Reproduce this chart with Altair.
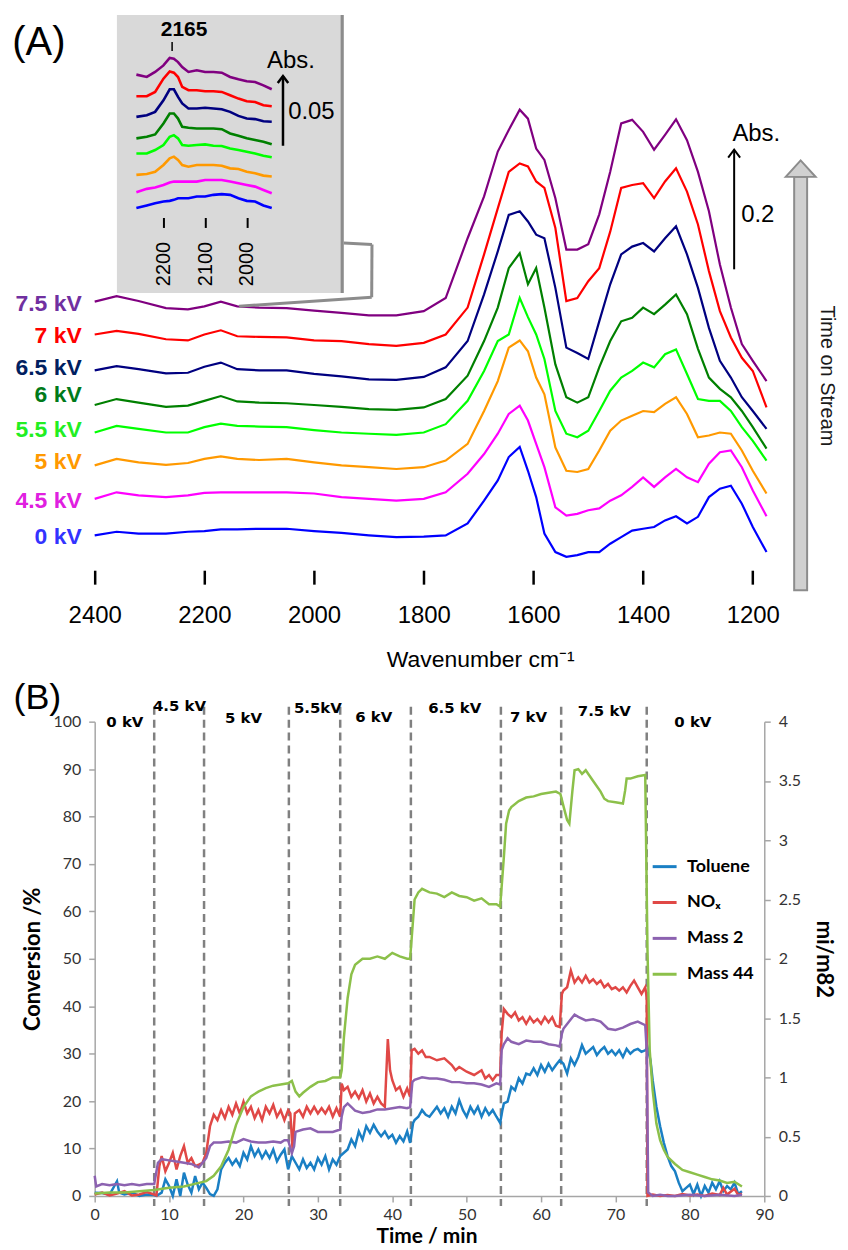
import altair as alt
import pandas as pd

# ======================= (A) DRIFTS spectra =======================
WAVENUMBER = [2400, 2360, 2320, 2270, 2230, 2200, 2170, 2140, 2100, 2050, 2000, 1950, 1900, 1850,
              1800, 1760, 1720, 1690, 1665, 1645, 1625, 1610, 1595, 1580, 1560, 1540, 1520, 1500,
              1480, 1460, 1440, 1420, 1400, 1380, 1360, 1340, 1320, 1300, 1280, 1260, 1240, 1220,
              1200, 1175]

ABS_7_5KV = [0.446, 0.455, 0.447, 0.435, 0.433, 0.438, 0.446, 0.438, 0.436, 0.435, 0.431, 0.427, 0.423, 0.423,
             0.430, 0.452, 0.552, 0.622, 0.697, 0.733, 0.767, 0.752, 0.702, 0.683, 0.619, 0.533, 0.533, 0.542,
             0.592, 0.663, 0.744, 0.750, 0.730, 0.700, 0.725, 0.751, 0.716, 0.663, 0.597, 0.508, 0.436, 0.375,
             0.347, 0.313]
ABS_7KV = [0.391, 0.397, 0.392, 0.383, 0.381, 0.391, 0.398, 0.388, 0.387, 0.386, 0.381, 0.380, 0.375, 0.372,
           0.377, 0.391, 0.436, 0.525, 0.602, 0.663, 0.677, 0.672, 0.647, 0.636, 0.569, 0.447, 0.452, 0.480,
           0.502, 0.563, 0.636, 0.641, 0.644, 0.619, 0.647, 0.669, 0.630, 0.575, 0.497, 0.430, 0.386, 0.352,
           0.330, 0.269]
ABS_6_5KV = [0.331, 0.338, 0.333, 0.326, 0.327, 0.337, 0.344, 0.333, 0.331, 0.331, 0.325, 0.321, 0.316, 0.315,
             0.320, 0.336, 0.380, 0.458, 0.530, 0.591, 0.597, 0.580, 0.558, 0.552, 0.469, 0.369, 0.360, 0.350,
             0.413, 0.475, 0.525, 0.538, 0.544, 0.530, 0.552, 0.572, 0.525, 0.469, 0.402, 0.347, 0.319, 0.286,
             0.263, 0.233]
ABS_6KV = [0.273, 0.283, 0.277, 0.270, 0.272, 0.280, 0.288, 0.279, 0.277, 0.276, 0.273, 0.270, 0.266, 0.265,
           0.269, 0.283, 0.322, 0.380, 0.436, 0.502, 0.527, 0.475, 0.502, 0.436, 0.341, 0.286, 0.277, 0.286,
           0.336, 0.380, 0.413, 0.419, 0.436, 0.425, 0.441, 0.458, 0.425, 0.367, 0.319, 0.300, 0.286, 0.263,
           0.236, 0.200]
ABS_5_5KV = [0.227, 0.238, 0.233, 0.227, 0.227, 0.236, 0.242, 0.238, 0.237, 0.236, 0.231, 0.227, 0.225, 0.223,
             0.227, 0.241, 0.280, 0.330, 0.380, 0.391, 0.452, 0.420, 0.391, 0.350, 0.263, 0.225, 0.219, 0.230,
             0.263, 0.297, 0.319, 0.330, 0.344, 0.336, 0.358, 0.366, 0.325, 0.283, 0.280, 0.280, 0.263, 0.236,
             0.213, 0.180]
ABS_5KV = [0.172, 0.183, 0.177, 0.173, 0.176, 0.183, 0.187, 0.183, 0.181, 0.183, 0.177, 0.172, 0.169, 0.166,
           0.169, 0.180, 0.208, 0.263, 0.313, 0.369, 0.381, 0.363, 0.319, 0.291, 0.202, 0.163, 0.161, 0.166,
           0.197, 0.230, 0.247, 0.255, 0.263, 0.261, 0.275, 0.286, 0.258, 0.219, 0.222, 0.227, 0.225, 0.197,
           0.163, 0.125]
ABS_4_5KV = [0.116, 0.127, 0.122, 0.119, 0.122, 0.126, 0.127, 0.127, 0.127, 0.127, 0.125, 0.119, 0.116, 0.113,
             0.116, 0.127, 0.158, 0.191, 0.225, 0.258, 0.272, 0.247, 0.208, 0.169, 0.102, 0.088, 0.091, 0.097,
             0.100, 0.113, 0.122, 0.136, 0.152, 0.136, 0.152, 0.166, 0.152, 0.144, 0.175, 0.194, 0.197, 0.169,
             0.130, 0.087]
ABS_0KV = [0.055, 0.061, 0.058, 0.058, 0.061, 0.062, 0.065, 0.065, 0.066, 0.066, 0.062, 0.059, 0.055, 0.052,
           0.053, 0.055, 0.075, 0.113, 0.147, 0.186, 0.203, 0.163, 0.119, 0.058, 0.027, 0.019, 0.022, 0.027,
           0.027, 0.041, 0.052, 0.063, 0.066, 0.069, 0.080, 0.087, 0.075, 0.086, 0.119, 0.133, 0.138, 0.108,
           0.069, 0.027]

SPECTRA_SERIES = ["7.5 kV", "7 kV", "6.5 kV", "6 kV", "5.5 kV", "5 kV", "4.5 kV", "0 kV"]
SPECTRA = [ABS_7_5KV, ABS_7KV, ABS_6_5KV, ABS_6KV, ABS_5_5KV, ABS_5KV, ABS_4_5KV, ABS_0KV]
LABEL_LEVEL = [0.442, 0.388, 0.335, 0.290, 0.232, 0.178, 0.112, 0.052]

# inset (CO region)
INSET_WN = [2265, 2240, 2220, 2200, 2185, 2175, 2165, 2155, 2140, 2120, 2100, 2080, 2060, 2040, 2020,
            2000, 1980, 1960, 1940]
INSET_7_5KV = [0.1017, 0.1000, 0.1036, 0.1083, 0.1136, 0.1131, 0.1107, 0.1071, 0.1036, 0.1048, 0.1036,
               0.1036, 0.1031, 0.1000, 0.0983, 0.0969, 0.0964, 0.0940, 0.0912]
INSET_7KV = [0.0862, 0.0862, 0.0893, 0.0988, 0.1040, 0.1031, 0.1000, 0.0929, 0.0905, 0.0905, 0.0898,
             0.0898, 0.0893, 0.0869, 0.0845, 0.0826, 0.0821, 0.0798, 0.0790]
INSET_6_5KV = [0.0714, 0.0726, 0.0750, 0.0833, 0.0912, 0.0912, 0.0857, 0.0810, 0.0774, 0.0774, 0.0779,
               0.0774, 0.0769, 0.0750, 0.0721, 0.0702, 0.0698, 0.0683, 0.0679]
INSET_6KV = [0.0560, 0.0571, 0.0588, 0.0667, 0.0738, 0.0738, 0.0702, 0.0643, 0.0636, 0.0631, 0.0631,
             0.0631, 0.0626, 0.0595, 0.0579, 0.0560, 0.0548, 0.0536, 0.0517]
INSET_5_5KV = [0.0452, 0.0452, 0.0476, 0.0512, 0.0571, 0.0583, 0.0560, 0.0512, 0.0507, 0.0512, 0.0517,
               0.0507, 0.0505, 0.0488, 0.0476, 0.0464, 0.0452, 0.0436, 0.0424]
INSET_5KV = [0.0298, 0.0305, 0.0321, 0.0369, 0.0417, 0.0429, 0.0405, 0.0369, 0.0357, 0.0369, 0.0369,
             0.0369, 0.0364, 0.0345, 0.0340, 0.0321, 0.0310, 0.0293, 0.0286]
INSET_4_5KV = [0.0174, 0.0198, 0.0207, 0.0226, 0.0243, 0.0250, 0.0250, 0.0250, 0.0250, 0.0250, 0.0262,
               0.0262, 0.0262, 0.0250, 0.0238, 0.0226, 0.0214, 0.0190, 0.0167]
INSET_0KV = [0.0060, 0.0079, 0.0095, 0.0107, 0.0112, 0.0119, 0.0131, 0.0131, 0.0131, 0.0143, 0.0143,
             0.0155, 0.0160, 0.0155, 0.0131, 0.0112, 0.0107, 0.0079, 0.0060]
INSET_SPECTRA = [INSET_7_5KV, INSET_7KV, INSET_6_5KV, INSET_6KV, INSET_5_5KV, INSET_5KV, INSET_4_5KV, INSET_0KV]

MAIN_TICKS = [2400, 2200, 2000, 1800, 1600, 1400, 1200]
INSET_TICKS = [2200, 2100, 2000]
BAR_WN, BAR_BASE, BAR_LEN = 1234, 0.50, 0.2
INSET_BAR_WN, INSET_BAR_BASE, INSET_BAR_LEN = 1913, 0.0507, 0.05

# ======================= (B) conversion vs time =======================
TOLUENE_T = [0, 1, 2, 3, 3.3, 4, 5, 6, 7, 8,
             8.3, 9, 9.5, 10, 10.5, 11, 11.5, 12, 12.5, 13,
             13.5, 14, 14.5, 15, 15.5, 16, 16.5, 17, 17.5, 18,
             18.5, 19, 19.5, 20, 20.5, 21, 21.5, 22, 22.5, 23,
             23.5, 24, 24.5, 25, 25.5, 26, 26.5, 27, 27.5, 28,
             28.5, 29, 29.5, 30, 30.5, 31, 31.5, 32, 32.5, 33,
             33.5, 34, 34.5, 35, 35.5, 36, 36.5, 37, 37.5, 38,
             38.5, 39, 39.5, 40, 40.5, 41, 41.5, 42, 42.4, 42.8,
             43, 43.5, 44, 44.5, 45, 46, 46.5, 47, 47.5, 48,
             48.5, 49, 49.5, 50, 50.5, 51, 51.5, 52, 52.5, 53,
             53.5, 54, 54.5, 54.8, 55, 55.5, 56, 56.5, 57, 57.5,
             58, 58.5, 59, 59.5, 60, 60.5, 61, 61.5, 62, 62.5,
             63, 63.5, 64, 64.5, 65, 65.5, 66, 66.5, 67, 67.5,
             68, 68.5, 69, 69.5, 70, 70.5, 71, 71.5, 72, 72.5,
             73, 73.5, 74, 74.3, 74.7, 75, 75.5, 76, 76.5, 77,
             77.5, 78, 78.5, 79, 79.5, 80, 80.5, 81, 81.5, 82,
             82.5, 83, 83.5, 84, 84.5, 85, 85.5, 86, 86.5, 87]
TOLUENE = [0.7, 0.6, 0.3, 3.1, 0.7, 0.3, 0.7, 0, 0.3, 0.2,
           0, 0.7, 3.5, 2.1, 0, 3.5, 0, 4.9, 2.4, 0.7,
           4.2, 1.4, 2.8, 1.7, 0.4, 0, 1.4, 5.6, 7, 8,
           6.6, 7.7, 6.3, 9.1, 7.7, 10.5, 8.4, 9.8, 8, 9.4,
           8, 9.8, 7.3, 8.7, 9.8, 5.6, 8.4, 7, 5.6, 7.7,
           5.9, 7, 5.6, 8, 6.6, 8.4, 5.6, 7.7, 6.6, 8.4,
           9.1, 9.8, 11.9, 10.5, 13.6, 11.9, 14.7, 13.3, 15, 13.6,
           12.6, 13.6, 12.2, 12.9, 11.2, 12.6, 11.5, 13.6, 11.2, 15.4,
           16, 16.7, 18.1, 17.1, 16.7, 18.8, 17.4, 18.5, 16.7, 18.8,
           17.4, 20.2, 18.1, 16.7, 18.8, 17.4, 18.8, 16.7, 18.5, 17.1,
           18.1, 16.7, 15.4, 18.1, 19.5, 19.9, 23, 22.3, 24.8, 23.7,
           25.8, 25.5, 26.9, 25.5, 27.6, 26.2, 27.9, 26.5, 27.6, 28.6,
           27.9, 25.8, 29, 27.6, 29.3, 31.8, 30, 30.7, 31.4, 29.7,
           30.7, 31.4, 30, 30.7, 29.7, 30.7, 29.3, 31, 30, 30.7,
           31, 30.4, 30.7, 31.4, 28.6, 24.4, 18.8, 14.7, 11.2, 8.4,
           6.3, 5.2, 2.8, 1, 1.7, 2.4, 0.4, 2.4, 0, 2.1,
           0.7, 2.8, 1.4, 3.1, 1, 2.1, 1.4, 2.8, 0.4, 1]

NOX_T = [0, 1, 2, 3, 4, 5, 6, 7, 8, 8.3,
         8.7, 9, 9.5, 10, 10.5, 11, 11.5, 12, 12.5, 13,
         13.5, 14, 14.5, 15, 15.5, 16, 16.5, 17, 17.5, 18,
         18.5, 19, 19.5, 20, 20.5, 21, 21.5, 22, 22.5, 23,
         23.5, 24, 24.5, 25, 25.5, 26, 26.3, 26.6, 26.9, 27.5,
         28, 28.5, 29, 29.5, 30, 30.5, 31, 31.5, 32, 32.5,
         33, 33.2, 33.5, 34, 34.5, 35, 35.5, 36, 36.5, 37,
         37.5, 38, 38.5, 39, 39.4, 39.7, 40, 40.5, 41, 41.5,
         42, 42.4, 42.6, 43, 43.5, 44, 44.5, 45, 46, 47,
         48, 48.5, 49, 50, 51, 52, 52.5, 53, 53.5, 54,
         54.5, 54.7, 55, 55.5, 56, 56.5, 57, 57.5, 58, 58.5,
         59, 59.5, 60, 60.5, 61, 61.5, 62, 62.5, 62.8, 63,
         63.5, 64, 64.5, 65, 65.5, 66, 66.5, 67, 67.5, 68,
         68.5, 69, 69.5, 70, 70.5, 71, 71.5, 72, 72.5, 73,
         73.5, 74, 74.2, 74.3, 75, 76, 77, 78, 79, 80,
         81, 82, 83, 84, 84.5, 85, 86, 86.5, 87]
NOX = [0.3, 0.7, 0.1, 0.5, 1, 0.1, 0.3, 0.8, 0.3, 0.1,
       6.3, 8.4, 5.2, 7, 9.1, 5.6, 8.4, 10.5, 7, 8,
       6.3, 6.6, 7, 9.1, 14.7, 17.1, 16, 18.1, 16.4, 18.8,
       17.1, 19.5, 17.4, 19.9, 17.4, 18.8, 16.4, 18.1, 16, 18.8,
       17.4, 19.2, 16.7, 18.1, 16, 18.1, 17.4, 9.8, 17.4, 18.1,
       16.7, 18.8, 17.4, 18.8, 17.4, 18.5, 17.4, 18.8, 16.7, 18.5,
       16.7, 23.7, 22.3, 23, 20.9, 22, 20.6, 22.3, 19.9, 21.6,
       19.5, 20.9, 19.5, 18.8, 33.1, 26.5, 24.4, 22.3, 23, 20.9,
       22.7, 20.9, 30.7, 31, 30, 30.7, 29.3, 29.3, 28.6, 29,
       27.6, 26.5, 27.2, 26.2, 25.5, 26.5, 24.8, 25.5, 24.4, 25.5,
       25.5, 34.2, 39.4, 38.4, 37.7, 38.7, 37, 37.7, 36.3, 37.7,
       36.6, 37.3, 36.3, 37.7, 36.6, 37.7, 35.9, 35.6, 42.6, 43.3,
       44, 47.5, 45, 46.1, 45, 46.4, 45, 45.7, 44.7, 45.4,
       44, 44.7, 43.6, 44, 43.3, 44, 42.9, 44.3, 45.4, 44,
       42.6, 44, 41.9, 0, 0.3, 0, 0.2, 0, 0.4, 0.1,
       0.3, 0, 0.5, 0.2, 1.7, 0.3, 1.5, 0.2, 0.5]

MASS2_T = [0, 0.2, 1, 2, 3, 4, 5, 6, 7, 8,
           8.5, 9, 10, 11, 12, 13, 14, 14.5, 15, 15.5,
           16, 17, 18, 19, 20, 21, 22, 23, 24, 25,
           25.5, 26, 26.5, 26.8, 27, 28, 29, 30, 31, 32,
           33, 33.2, 33.5, 34, 35, 36, 37, 38, 39, 40,
           41, 42, 42.4, 42.7, 43, 44, 45, 46, 47, 48,
           49, 50, 51, 52, 53, 54, 54.5, 54.7, 55, 55.5,
           56, 57, 58, 59, 60, 61, 62, 62.5, 62.8, 63,
           64, 64.5, 65, 66, 67, 68, 69, 70, 71, 72,
           73, 74, 74.2, 74.4, 75, 76, 77, 78, 80, 82,
           84, 86, 87]
MASS2 = [0.17, 0.08, 0.1, 0.09, 0.1, 0.09, 0.1, 0.09, 0.1, 0.1,
         0.28, 0.31, 0.3, 0.29, 0.28, 0.27, 0.24, 0.28, 0.32, 0.42,
         0.45, 0.45, 0.46, 0.45, 0.48, 0.46, 0.45, 0.45, 0.46, 0.45,
         0.47, 0.47, 0.36, 0.42, 0.54, 0.56, 0.57, 0.54, 0.54, 0.54,
         0.56, 0.67, 0.75, 0.78, 0.72, 0.7, 0.71, 0.73, 0.73, 0.74,
         0.75, 0.74, 0.75, 0.96, 0.98, 1.0, 0.99, 0.99, 0.98, 0.96,
         0.96, 0.95, 0.95, 0.94, 0.92, 0.95, 0.94, 1.23, 1.28, 1.33,
         1.3, 1.28, 1.31, 1.3, 1.3, 1.28, 1.27, 1.26, 1.37, 1.41,
         1.49, 1.53, 1.51, 1.48, 1.49, 1.47, 1.41, 1.4, 1.42, 1.45,
         1.47, 1.44, 1.23, 0.03, 0.0, 0.01, 0.0, 0.0, 0.01, 0.0,
         0.01, 0.0, 0.01]

MASS44_T = [0, 2, 4, 6, 8, 10, 12, 14, 15, 16,
            17, 18, 19, 20, 21, 22, 23, 24, 25, 26,
            26.5, 27, 27.5, 28, 29, 30, 31, 32, 33, 33.2,
            33.5, 34, 34.5, 35, 36, 37, 38, 39, 40, 41,
            42, 42.4, 43, 43.5, 44, 45, 46, 47, 48, 49,
            50, 51, 52, 53, 54, 54.5, 55, 55.3, 55.7, 56,
            57, 58, 59, 60, 61, 62, 62.6, 63, 63.5, 63.8,
            64.2, 64.5, 65, 65.5, 66, 67, 68, 68.5, 69, 70,
            71, 71.3, 71.5, 72, 73, 74, 74.3, 74.6, 75, 75.5,
            76, 76.5, 77, 78, 79, 80, 81, 82, 83, 84,
            85, 86, 87]
MASS44 = [0.02, 0.03, 0.03, 0.04, 0.05, 0.07, 0.08, 0.11, 0.125, 0.17,
          0.25, 0.39, 0.6, 0.75, 0.84, 0.88, 0.91, 0.93, 0.94, 0.95,
          0.97, 0.88, 0.84, 0.87, 0.92, 0.96, 0.97, 1.0, 1.0, 1.06,
          1.34, 1.67, 1.87, 1.95, 2.0, 2.0, 2.02, 2.0, 2.05, 2.02,
          2.0, 2.0, 2.5, 2.56, 2.59, 2.56, 2.55, 2.52, 2.56, 2.53,
          2.52, 2.49, 2.51, 2.46, 2.46, 2.44, 2.86, 3.14, 3.25, 3.28,
          3.33, 3.36, 3.37, 3.39, 3.4, 3.41, 3.39, 3.29, 3.17, 3.14,
          3.41, 3.59, 3.6, 3.56, 3.59, 3.5, 3.41, 3.35, 3.33, 3.32,
          3.31, 3.42, 3.52, 3.52, 3.54, 3.55, 2.08, 1.23, 0.89, 0.61,
          0.47, 0.39, 0.33, 0.27, 0.22, 0.2, 0.18, 0.16, 0.14, 0.13,
          0.11, 0.12, 0.08]

SWITCH_TIMES = [8.0, 14.7, 26.1, 33.0, 42.5, 54.6, 62.7, 74.2]
STAGE_LABELS = ["0 kV", "4.5 kV", "5 kV", "5.5kV", "6 kV", "6.5 kV", "7 kV", "7.5 kV", "0 kV"]
STAGE_T = [4.06, 11.4, 20.0, 30.0, 37.5, 48.4, 58.3, 68.5, 80.4]
STAGE_LEVEL = [99.9, 103.3, 100.8, 102.9, 101.0, 102.9, 101.0, 102.2, 99.9]

SERIES_B = ["Toluene", "NOₓ", "Mass 2", "Mass 44"]

# ======================= styles =======================
LINE_COLORS = ["#800080", "#ff0000", "#000080", "#008000", "#00ff00", "#ff9900", "#ff00ff", "#0000ff"]
LABEL_COLORS = ["#7030a0", "#ff0000", "#002060", "#007a1a", "#22ee22", "#ff9900", "#e020e0", "#3333ff"]
COLORS_B = ["#1a7fc4", "#e04846", "#8c62b0", "#8cc04a"]
FONT_A = "Liberation Sans"
FONT_B = "Lato"
FONT_KV = "DejaVu Sans"
GRAY = "#a6a6a6"
LBL = "#333333"
W_A, H_A = 677, 558
W_B, H_B = 672, 476
CHEVRON = "M-0.75,1L0,0L0.75,1"
TRIANGLE = "M-1,0.55L0,-0.55L1,0.55Z"


def one_row():
    return pd.DataFrame({"k": [0]})


def pix_text(text, x, y, size, font, weight="normal", color="black", angle=0, align="center"):
    return alt.Chart(one_row()).mark_text(
        text=text, font=font, fontSize=size, fontWeight=weight, color=color,
        angle=angle, align=align, baseline="middle"
    ).encode(x=alt.value(x), y=alt.value(y))


def pix_rule(x, y, x2, y2, color, width):
    return alt.Chart(one_row()).mark_rule(color=color, strokeWidth=width).encode(
        x=alt.value(x), y=alt.value(y), x2=alt.value(x2), y2=alt.value(y2))


def pix_rect(x, y, x2, y2, fill, stroke=None, sw=0):
    kw = dict(fill=fill)
    if stroke:
        kw.update(stroke=stroke, strokeWidth=sw)
    return alt.Chart(one_row()).mark_rect(**kw).encode(
        x=alt.value(x), y=alt.value(y), x2=alt.value(x2), y2=alt.value(y2))


# ---------------- panel A data frames ----------------
df_spec = pd.DataFrame([
    {"wn": w, "absorbance": v, "series": s}
    for s, vals in zip(SPECTRA_SERIES, SPECTRA) for w, v in zip(WAVENUMBER, vals)
])
df_inset = pd.DataFrame([
    {"wn": w, "absorbance": v, "series": s}
    for s, vals in zip(SPECTRA_SERIES, INSET_SPECTRA) for w, v in zip(INSET_WN, vals)
])
df_lab = pd.DataFrame({"series": SPECTRA_SERIES, "absorbance": LABEL_LEVEL, "lc": LABEL_COLORS})

color_A = alt.Scale(domain=SPECTRA_SERIES, range=LINE_COLORS)
xA = alt.Scale(domain=[1170, 2400], reverse=True, nice=False, zero=False)
yA = alt.Scale(domain=[-0.0033, 0.9267], nice=False, zero=False)
xI = alt.Scale(domain=[745.5, 2365.1], reverse=True, nice=False, zero=False)
yI = alt.Scale(domain=[-0.2536, 0.145], nice=False, zero=False)

axA = alt.Axis(orient="bottom", values=MAIN_TICKS, format="d", domain=False, grid=False,
               tickColor="black", tickWidth=2.5, tickSize=14,
               labelFont=FONT_A, labelFontSize=24, labelColor="black", labelPadding=19,
               labelFlush=False, labelOverlap=False,
               title="Wavenumber cm⁻¹", titleFont=FONT_A, titleFontSize=23, titleFontWeight="normal",
               titleColor="black", titleX=387, titleY=90, titleBaseline="middle")
axI = alt.Axis(orient="bottom", offset=-354, values=INSET_TICKS, format="d", domain=False, grid=False,
               tickColor="black", tickWidth=2, tickSize=10, labelAngle=270,
               labelFont=FONT_A, labelFontSize=20, labelColor="black", labelPadding=14,
               labelFlush=False, labelOverlap=False, title=None, zindex=2)

XA = alt.X("wn:Q", scale=xA, axis=axA)
XI = alt.X("wn:Q", scale=xI, axis=axI)

spectra = alt.Chart(df_spec).mark_line(strokeWidth=2.2).encode(
    x=XA, y=alt.Y("absorbance:Q", scale=yA, axis=None),
    color=alt.Color("series:N", scale=color_A, legend=None))
kv_labels = alt.Chart(df_lab).mark_text(align="right", baseline="middle", font=FONT_A, fontSize=23,
                                        fontWeight="bold").encode(
    x=alt.value(-13), y=alt.Y("absorbance:Q", scale=yA, axis=None),
    text="series:N", fill=alt.Fill("lc:N", scale=None))
df_bar = pd.DataFrame({"wn": [BAR_WN], "absorbance": [BAR_BASE], "top": [BAR_BASE + BAR_LEN]})
bar = alt.Chart(df_bar).mark_rule(color="black", strokeWidth=2).encode(
    x=XA, y=alt.Y("absorbance:Q", scale=yA, axis=None), y2="top:Q")
bar_head = alt.Chart(df_bar).mark_point(shape=CHEVRON, filled=False, color="black", strokeWidth=2,
                                        size=256, opacity=1).encode(
    x=XA, y=alt.Y("top:Q", scale=yA, axis=None))

main_group = alt.layer(
    spectra, kv_labels, bar, bar_head,
    pix_text("Abs.", 664, 120.5, 24, FONT_A),
    pix_text("0.2", 665.5, 201.5, 24, FONT_A),
    pix_rect(702, 163, 715, 578, "#d0d0d0", "#8c8c8c", 2),
    alt.Chart(one_row()).mark_point(shape=TRIANGLE, filled=True, fill="#d0d0d0", stroke="#8c8c8c",
                                    strokeWidth=2, size=900, opacity=1).encode(
        x=alt.value(708.5), y=alt.value(155)),
    pix_text("Time on Stream", 735, 363, 20, FONT_A, color="#1a1a1a", angle=90),
    pix_text("(A)", -56, 29, 40, FONT_A),
)

df_ibar = pd.DataFrame({"wn": [INSET_BAR_WN], "absorbance": [INSET_BAR_BASE],
                        "top": [INSET_BAR_BASE + INSET_BAR_LEN]})
inset_group = alt.layer(
    pix_rect(22.3, 0.7, 246.7, 279.7, "#d9d9d9"),
    pix_rect(246.7, 0.7, 250, 279.7, "#8c8c8c"),
    pix_rule(250, 229.7, 278.3, 231, "#8c8c8c", 3),
    pix_rule(278.3, 231, 278, 284, "#8c8c8c", 3),
    pix_rule(278, 284, 145, 293, "#8c8c8c", 3),
    alt.Chart(df_inset).mark_line(strokeWidth=2.6).encode(
        x=XI, y=alt.Y("absorbance:Q", scale=yI, axis=None),
        color=alt.Color("series:N", scale=color_A, legend=None)),
    alt.Chart(df_ibar).mark_rule(color="black", strokeWidth=2.5).encode(
        x=XI, y=alt.Y("absorbance:Q", scale=yI, axis=None), y2="top:Q"),
    alt.Chart(df_ibar).mark_point(shape=CHEVRON, filled=False, color="black", strokeWidth=2.5,
                                  size=196, opacity=1).encode(
        x=XI, y=alt.Y("top:Q", scale=yI, axis=None)),
    pix_text("2165", 89.7, 15.5, 21, FONT_A, weight="bold"),
    pix_rule(77.7, 28, 77.7, 37, "black", 1.5),
    pix_text("Abs.", 197, 47, 24, FONT_A),
    pix_text("0.05", 217.5, 98, 24, FONT_A),
)

panel_a = alt.layer(main_group, inset_group).resolve_scale(
    x="independent", y="independent").properties(width=W_A, height=H_A)

# ---------------- panel B ----------------
df_left = pd.concat([
    pd.DataFrame({"time": TOLUENE_T, "value": TOLUENE, "series": SERIES_B[0]}),
    pd.DataFrame({"time": NOX_T, "value": NOX, "series": SERIES_B[1]}),
])
df_right = pd.concat([
    pd.DataFrame({"time": MASS2_T, "value": MASS2, "series": SERIES_B[2]}),
    pd.DataFrame({"time": MASS44_T, "value": MASS44, "series": SERIES_B[3]}),
])
df_stage = pd.DataFrame({"time": STAGE_T, "value": STAGE_LEVEL, "label": STAGE_LABELS})
df_switch = pd.DataFrame({"time": SWITCH_TIMES})

color_B = alt.Scale(domain=SERIES_B, range=COLORS_B)
leg_B = alt.Legend(title=None, orient="none", legendX=558.5, legendY=132, symbolType="stroke",
                   symbolSize=576, symbolStrokeWidth=3, labelFont=FONT_B, labelFontSize=18,
                   labelFontWeight="bold", labelColor="black", labelOffset=9, rowPadding=13, padding=0)
xB = alt.Scale(domain=[0, 90], nice=False, zero=False)
axB = alt.Axis(values=list(range(0, 91, 10)), domainColor=GRAY, domainWidth=1.5, tickColor=GRAY,
               tickWidth=1.5, tickSize=6, grid=False, labelFont=FONT_B, labelFontSize=16,
               labelColor=LBL, labelPadding=5, labelFlush=False,
               title="Time / min", titleFont=FONT_B, titleFontSize=21, titleFontWeight="bold",
               titleColor="black", titleX=333, titleY=41, titleBaseline="middle")
yL = alt.Scale(domain=[0, 100], nice=False, zero=False)
axL = alt.Axis(orient="left", values=list(range(0, 101, 10)), domainColor=GRAY, domainWidth=1.5,
               tickColor=GRAY, tickWidth=1.5, tickSize=6, grid=False, labelFont=FONT_B,
               labelFontSize=16, labelColor=LBL, labelPadding=8,
               title="Conversion /%", titleFont=FONT_B, titleFontSize=22, titleFontWeight="bold",
               titleColor="black", titleAngle=270, titleX=-62, titleY=238, titleBaseline="middle")
yR = alt.Scale(domain=[0, 4], nice=False, zero=False)
axR = alt.Axis(orient="right", values=[0, 0.5, 1, 1.5, 2, 2.5, 3, 3.5, 4], format="~g",
               domainColor=GRAY, domainWidth=1.5, tickColor=GRAY, tickWidth=1.5, tickSize=6,
               grid=False, labelFont=FONT_B, labelFontSize=16, labelColor=LBL, labelPadding=8,
               title="mi/m82", titleFont=FONT_B, titleFontSize=22, titleFontWeight="bold",
               titleColor="black", titleAngle=90, titleX=59, titleY=238, titleBaseline="middle")
XB = alt.X("time:Q", scale=xB, axis=axB)

rules = alt.Chart(df_switch).mark_rule(color="#808080", strokeWidth=2.5, strokeDash=[8, 5]).encode(
    x=XB, y=alt.value(-15), y2=alt.value(H_B + 10))
left_lines = alt.Chart(df_left).mark_line(strokeWidth=2.5).encode(
    x=XB, y=alt.Y("value:Q", scale=yL, axis=axL),
    color=alt.Color("series:N", scale=color_B, legend=leg_B))
stage_text = alt.Chart(df_stage).mark_text(font=FONT_KV, fontSize=15, fontWeight="bold", color="black",
                                           baseline="middle").encode(
    x=XB, y=alt.Y("value:Q", scale=yL, axis=axL), text="label:N")
right_lines = alt.Chart(df_right).mark_line(strokeWidth=2.5).encode(
    x=XB, y=alt.Y("value:Q", scale=yR, axis=axR),
    color=alt.Color("series:N", scale=color_B, legend=leg_B))

left_group = alt.layer(rules, left_lines, stage_text, pix_text("(B)", -57.5, -23.7, 36, FONT_A))
panel_b = alt.layer(left_group, right_lines).resolve_scale(y="independent").properties(
    width=W_B, height=H_B)

chart = alt.vconcat(panel_a, panel_b, spacing=8).resolve_scale(color="independent").properties(
    padding={"left": 4, "top": 4, "right": 3, "bottom": 0}
).configure_view(stroke=None)

chart.save("out.html", embed_options={"renderer": "svg", "actions": False})
